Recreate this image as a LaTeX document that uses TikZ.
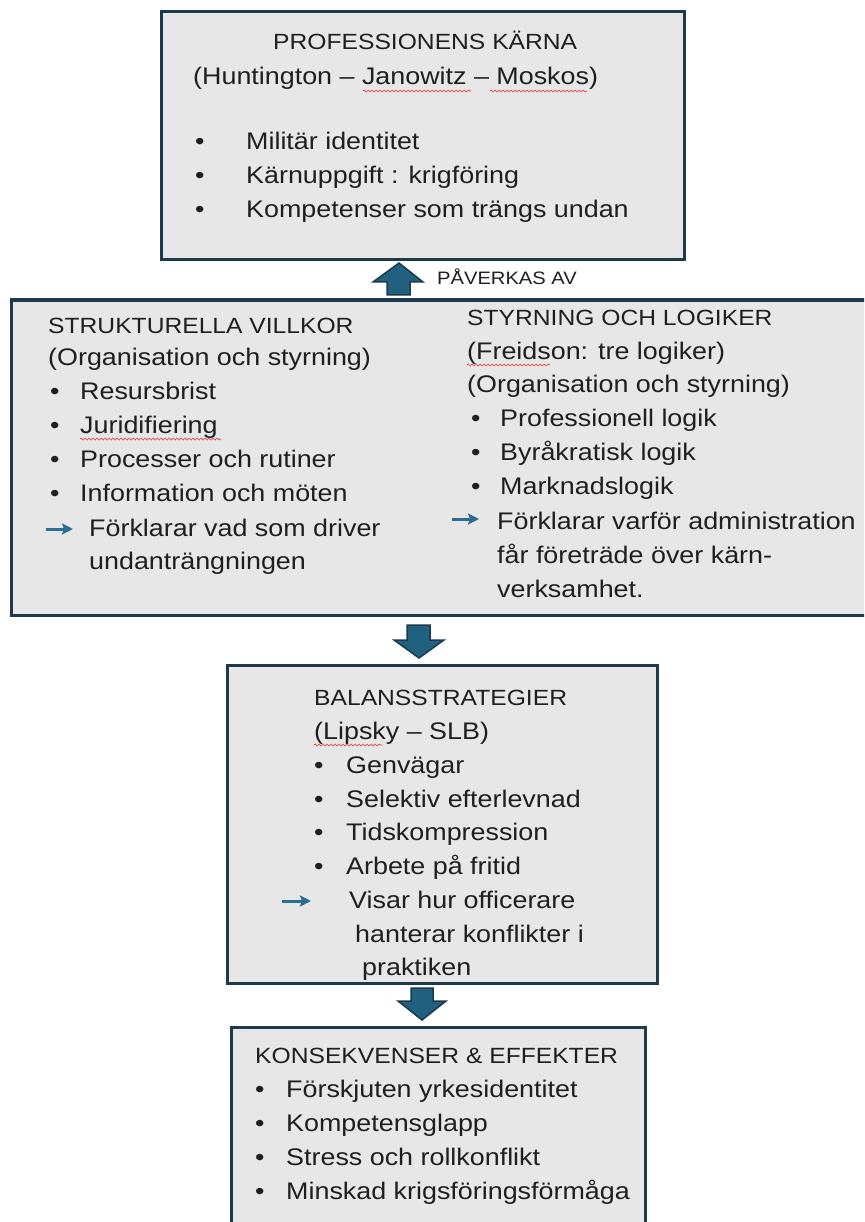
\documentclass[tikz,border=0pt]{standalone}
\usepackage{fontspec}
\setmainfont{Liberation Sans}[FakeStretch=1.12]
\usetikzlibrary{decorations.pathmorphing,arrows.meta}
\definecolor{boxfill}{HTML}{E7E7E7}
\definecolor{boxline}{HTML}{1C3A4B}
\definecolor{arrfill}{HTML}{21607F}
\definecolor{smallarr}{HTML}{2A6E94}
\definecolor{squig}{HTML}{E03030}
\tikzset{
  x=1pt,y=-1pt,
  panel/.style={draw=boxline,fill=boxfill,line width=3pt},
  txt/.style={anchor=base west,inner sep=0pt,font=\fontsize{24}{28}\selectfont,text=black!88},
  head/.style={anchor=base west,inner sep=0pt,font=\fontsize{22}{26}\selectfont,text=black!88},
  small/.style={anchor=base west,inner sep=0pt,font=\fontsize{18}{21}\selectfont,text=black!88},
  blockarrow/.style={draw=boxline,fill=arrfill,line width=1.5pt,line join=miter},
  pointer/.style={draw=smallarr,line width=3pt,-{Stealth[length=11pt,width=11pt,inset=2pt]}},
  spell/.style={draw=squig,line width=0.6pt,decorate,decoration={snake,amplitude=1pt,segment length=4pt}}
}
\begin{document}
\begin{tikzpicture}
\useasboundingbox[fill=white] (0,0) rectangle (864,1222);
\clip (0,0) rectangle (864,1222);
% boxes
\draw[panel] (161,12) rectangle (684,260);
\draw[panel] (11,300) rectangle (900,615);
\draw[panel] (227,665) rectangle (657,983);
\draw[panel] (231,1027) rectangle (645,1240);
% block arrows
\draw[blockarrow] (399,263) -- (423,282) -- (410,282) -- (410,295) -- (387,295) -- (387,282) -- (373,282) -- cycle;
\draw[blockarrow] (419,658) -- (444,640) -- (430,640) -- (430,625) -- (407,625) -- (407,640) -- (394,640) -- cycle;
\draw[blockarrow] (422,1020) -- (446,1001) -- (433,1001) -- (433,988) -- (411,988) -- (411,1001) -- (398,1001) -- cycle;
\node[small] (pav) at (437,285) {PÅVERKAS AV};
% top box
\node[head] (t1) at (273,50) {PROFESSIONENS KÄRNA};
\node[txt] (t2) at (193,85) {(Huntington – Janowitz – Moskos)};
\node[txt] (b1) at (195,150) {•};
\node[txt] (t3) at (246,150) {Militär identitet};
\node[txt] (b2) at (195,184) {•};
\node[txt] (t4) at (246,184) {Kärnuppgift : krigföring};
\node[txt] (b3) at (195,218) {•};
\node[txt] (t5) at (246,218) {Kompetenser som trängs undan};
% left middle
\node[head] (l1) at (48,333) {STRUKTURELLA VILLKOR};
\node[txt] (l2) at (48,365) {(Organisation och styrning)};
\node[txt] (lb1) at (50,399) {•}; \node[txt] (l3) at (80,399) {Resursbrist};
\node[txt] (lb2) at (50,433) {•}; \node[txt] (l4) at (80,433) {Juridifiering};
\node[txt] (lb3) at (50,467) {•}; \node[txt] (l5) at (80,467) {Processer och rutiner};
\node[txt] (lb4) at (50,501) {•}; \node[txt] (l6) at (80,501) {Information och möten};
\coordinate (la0) at (46,529); \coordinate (la1) at (73,529);
\draw[pointer] (la0) -- (la1);
\node[txt] (l7) at (89,536) {Förklarar vad som driver};
\node[txt] (l8) at (89,569) {undanträngningen};
% right middle
\node[head] (r1) at (467,325) {STYRNING OCH LOGIKER};
\node[txt] (r2) at (467,359) {(Freidson: tre logiker)};
\node[txt] (r3) at (467,392) {(Organisation och styrning)};
\node[txt] (rb1) at (471,426) {•}; \node[txt] (r4) at (500,426) {Professionell logik};
\node[txt] (rb2) at (471,460) {•}; \node[txt] (r5) at (500,460) {Byråkratisk logik};
\node[txt] (rb3) at (471,494) {•}; \node[txt] (r6) at (500,494) {Marknadslogik};
\coordinate (ra0) at (452,519); \coordinate (ra1) at (479,519);
\draw[pointer] (ra0) -- (ra1);
\node[txt] (r7) at (497,529) {Förklarar varför administration};
\node[txt] (r8) at (497,563) {får företräde över kärn-};
\node[txt] (r9) at (497,597) {verksamhet.};
% balans
\node[head] (m1) at (314,705) {BALANSSTRATEGIER};
\node[txt] (m2) at (314,739) {(Lipsky – SLB)};
\node[txt] (mb1) at (314,773) {•}; \node[txt] (m3) at (346,773) {Genvägar};
\node[txt] (mb2) at (314,807) {•}; \node[txt] (m4) at (346,807) {Selektiv efterlevnad};
\node[txt] (mb3) at (314,840) {•}; \node[txt] (m5) at (346,840) {Tidskompression};
\node[txt] (mb4) at (314,874) {•}; \node[txt] (m6) at (346,874) {Arbete på fritid};
\coordinate (ma0) at (282,901); \coordinate (ma1) at (311,901);
\draw[pointer] (ma0) -- (ma1);
\node[txt] (m7) at (349,908) {Visar hur officerare};
\node[txt] (m8) at (355,942) {hanterar konflikter i};
\node[txt] (m9) at (362,975) {praktiken};
% konsekvenser
\node[head] (k1) at (255,1063) {KONSEKVENSER \& EFFEKTER};
\node[txt] (kb1) at (255,1097) {•}; \node[txt] (k2) at (286,1097) {Förskjuten yrkesidentitet};
\node[txt] (kb2) at (255,1131) {•}; \node[txt] (k3) at (286,1131) {Kompetensglapp};
\node[txt] (kb3) at (255,1165) {•}; \node[txt] (k4) at (286,1165) {Stress och rollkonflikt};
\node[txt] (kb4) at (255,1199) {•}; \node[txt] (k5) at (286,1199) {Minskad krigsföringsförmåga};
% spelling squiggles
\draw[spell] (363,91) -- (471,91);
\draw[spell] (490,91) -- (587,91);
\draw[spell] (80,439) -- (221,439);
\draw[spell] (467,365) -- (550,365);
\draw[spell] (314,745) -- (382,745);
\end{tikzpicture}
\end{document}
